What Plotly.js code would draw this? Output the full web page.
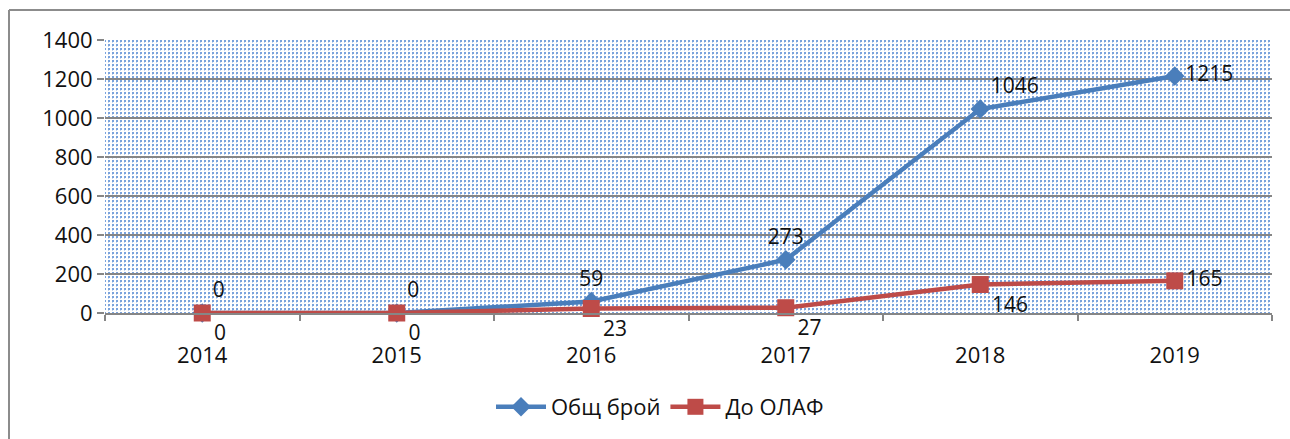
<!DOCTYPE html>
<html>
<head>
<meta charset="utf-8">
<script src="https://cdn.plot.ly/plotly-3.0.1.min.js"></script>
<style>
html,body{margin:0;padding:0;background:#fff;}
#chart{width:1290px;height:439px;}
</style>
</head>
<body>
<div id="chart"></div>
<script>
const years = ['2014', '2015', '2016', '2017', '2018', '2019'];
const totalCount = [0, 0, 59, 273, 1046, 1215];
const toOlaf = [0, 0, 23, 27, 146, 165];
const seriesNames = ['Общ брой', 'До ОЛАФ'];
const yTicks = [0, 200, 400, 600, 800, 1000, 1200, 1400];

const W = 1290, H = 439;
const M = {l: 105, r: 18, t: 40, b: 125};
const pw = W - M.l - M.r, ph = H - M.t - M.b;
const px = x => (x - M.l) / pw;
const py = y => (H - M.b - y) / ph;

const FONT = 'Open Sans, Liberation Sans, sans-serif';
const FS = 22;
const LFS = 21;

const traces = [
  {
    x: years, y: totalCount, name: seriesNames[0], type: 'scatter', mode: 'lines+markers+text',
    line: {color: '#4A7EBB', width: 4.5},
    marker: {symbol: 'diamond', size: 15, color: '#4A7EBB'},
    text: totalCount.map(String),
    textposition: ['top right', 'top right', 'top center', 'top center', 'top right', 'middle right'],
    textfont: {family: FONT, size: LFS, color: '#111'},
    cliponaxis: false
  },
  {
    x: years, y: toOlaf, name: seriesNames[1], type: 'scatter', mode: 'lines+markers+text',
    line: {color: '#BE4B48', width: 4.5},
    marker: {symbol: 'square', size: 17, color: '#BE4B48'},
    text: toOlaf.map(String),
    textposition: ['bottom right', 'bottom right', 'bottom right', 'bottom right', 'bottom right', 'middle right'],
    textfont: {family: FONT, size: LFS, color: '#111'},
    cliponaxis: false
  }
];

const layout = {
  width: W, height: H,
  margin: M,
  paper_bgcolor: '#ffffff',
  plot_bgcolor: '#dbe5f3',
  font: {family: FONT, size: FS, color: '#111'},
  showlegend: true,
  legend: {
    orientation: 'h', x: px(660), xanchor: 'center', y: py(407), yanchor: 'middle',
    font: {family: FONT, size: FS, color: '#111'}, itemwidth: 50, traceorder: 'normal'
  },
  xaxis: {
    type: 'category', range: [-0.5, 5.5], showgrid: false, zeroline: false,
    showline: true, linecolor: '#868686', linewidth: 2,
    ticks: 'outside', tickson: 'boundaries', ticklen: 6, tickwidth: 2, tickcolor: '#868686',
    ticklabelstandoff: 22,
    tickfont: {family: FONT, size: FS, color: '#111'}
  },
  yaxis: {
    range: [0, 1400], tickvals: yTicks, ticktext: yTicks.map(String),
    showgrid: true, gridcolor: '#868686', gridwidth: 2, zeroline: false, showline: false,
    ticks: 'outside', ticklen: 7, tickwidth: 2, tickcolor: '#868686',
    tickfont: {family: FONT, size: FS, color: '#111'}
  },
  shapes: [
    {type: 'line', xref: 'paper', yref: 'paper', x0: px(9), x1: px(1295), y0: py(10), y1: py(10), line: {color: '#8c8c8c', width: 2}},
    {type: 'line', xref: 'paper', yref: 'paper', x0: px(9), x1: px(9), y0: py(10), y1: py(445), line: {color: '#8c8c8c', width: 2}}
  ]
};

Plotly.newPlot('chart', traces, layout, {staticPlot: true}).then(gd => {
  const svg = gd.querySelector('svg.main-svg');
  const NS = 'http://www.w3.org/2000/svg';
  let defs = svg.querySelector('defs');
  if (!defs) { defs = document.createElementNS(NS, 'defs'); svg.insertBefore(defs, svg.firstChild); }
  const pat = document.createElementNS(NS, 'pattern');
  pat.setAttribute('id', 'dotpat');
  pat.setAttribute('patternUnits', 'userSpaceOnUse');
  pat.setAttribute('width', '4');
  pat.setAttribute('height', '4');
  const bg = document.createElementNS(NS, 'rect');
  bg.setAttribute('width', '4'); bg.setAttribute('height', '4'); bg.setAttribute('fill', '#ffffff');
  pat.appendChild(bg);
  const dot = document.createElementNS(NS, 'rect');
  dot.setAttribute('x', '0'); dot.setAttribute('y', '0');
  dot.setAttribute('width', '2'); dot.setAttribute('height', '2'); dot.setAttribute('fill', '#7aa3dc');
  pat.appendChild(dot);
  const dot2 = document.createElementNS(NS, 'rect');
  dot2.setAttribute('x', '0'); dot2.setAttribute('y', '2');
  dot2.setAttribute('width', '1'); dot2.setAttribute('height', '1'); dot2.setAttribute('fill', '#c4d6ef');
  pat.appendChild(dot2);
  defs.appendChild(pat);
  const r = svg.querySelector('.bglayer rect.bg');
  if (r) r.style.fill = 'url(#dotpat)';
});
</script>
</body>
</html>
